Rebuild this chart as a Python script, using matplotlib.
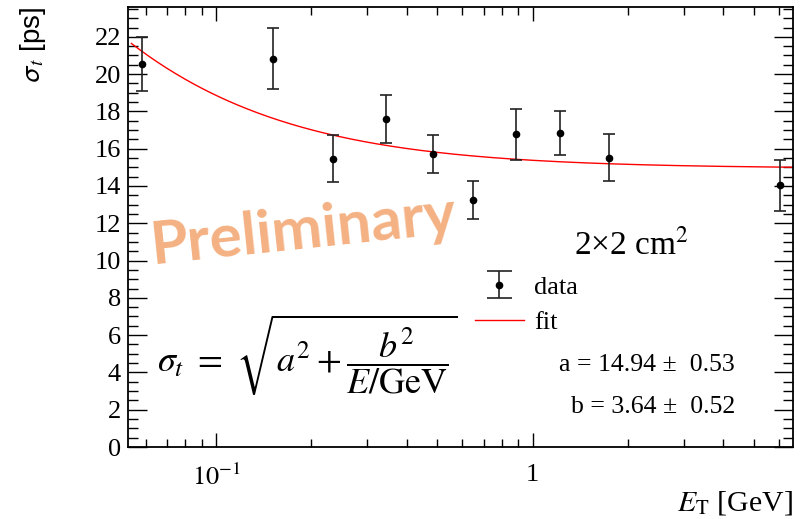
import numpy as np
import matplotlib.pyplot as plt
from matplotlib.ticker import FixedLocator, FixedFormatter, LogLocator, MultipleLocator, NullFormatter
from matplotlib.lines import Line2D
from matplotlib.collections import LineCollection
from matplotlib.container import ErrorbarContainer

plt.rcParams['font.family'] = 'Liberation Serif'
plt.rcParams['mathtext.fontset'] = 'stix'

# Timing resolution vs transverse energy
energy = [0.0583, 0.151, 0.2346, 0.344, 0.483, 0.649, 0.887, 1.222, 1.74, 6.04]
sigma_t = [20.55, 20.83, 15.47, 17.60, 15.69, 13.27, 16.77, 16.82, 15.52, 14.04]
sigma_err = [1.45, 1.65, 1.27, 1.30, 1.02, 1.02, 1.36, 1.18, 1.26, 1.37]

# fit parameters: sigma_t = sqrt(a^2 + b^2/E)
a_fit, a_err = 14.94, 0.53
b_fit, b_err = 3.64, 0.52

x_min, x_max = 0.0527, 6.64
y_min, y_max = 0.0, 23.6

fig = plt.figure(figsize=(8.04, 5.19), dpi=100)
ax = fig.add_axes([128 / 804, 72 / 519, 665 / 804, 440 / 519])

e_fit = np.logspace(np.log10(0.054), np.log10(x_max), 300)
fit_line, = ax.plot(e_fit, np.sqrt(a_fit**2 + b_fit**2 / e_fit), color='red', lw=1.0, zorder=2)

ax.errorbar(energy, sigma_t, yerr=sigma_err, fmt='o', color='black', ms=4.5,
            ecolor='#222222', elinewidth=1.2, capsize=4.5, capthick=1.2, zorder=3)

ax.set_xscale('log')
ax.set_xlim(x_min, x_max)
ax.set_ylim(y_min, y_max)

ax.xaxis.set_major_locator(FixedLocator([0.1, 1]))
ax.xaxis.set_major_formatter(FixedFormatter([r'$10^{-1}$', '1']))
ax.xaxis.set_minor_locator(LogLocator(base=10, subs=np.arange(2, 10)))
ax.xaxis.set_minor_formatter(NullFormatter())
ax.yaxis.set_major_locator(MultipleLocator(2))
ax.yaxis.set_minor_locator(MultipleLocator(0.5))

ax.tick_params(which='both', direction='in', top=True, right=True, width=1.0,
               labelfontfamily='Liberation Serif')
ax.tick_params(axis='x', which='major', length=10, labelsize=19, pad=12)
ax.tick_params(axis='x', which='minor', length=5.5)
ax.tick_params(axis='y', which='major', length=14, labelsize=19, pad=5)
ax.tick_params(axis='y', which='minor', length=7.5)
for s in ax.spines.values():
    s.set_linewidth(1.3)

ax.set_ylabel(r'$\mathsf{\sigma}_{t}$ [ps]', fontsize=20, family='Liberation Sans', loc='top')
ax.yaxis.set_label_coords(-0.12, 1.0)
ax.set_xlabel(r'$E_{\mathrm{T}}$ [GeV]', fontsize=21.5, loc='right')
ax.xaxis.set_label_coords(1.0, -0.095)

# legend entry for the data with wide caps
pt_proxy = Line2D([], [], marker='o', color='black', ms=4.5, ls='none')
cap_proxy = Line2D([], [], marker='_', ms=18, mew=1.2, color='#222222', ls='none')
bar_proxy = LineCollection([], colors='#222222', linewidths=1.2)
data_proxy = ErrorbarContainer((pt_proxy, (cap_proxy, cap_proxy), (bar_proxy,)),
                               has_xerr=False, has_yerr=True)

ax.legend(handles=[data_proxy, fit_line], labels=['data', 'fit'], loc='upper left',
          bbox_to_anchor=(0.5218, 0.39), frameon=False, fontsize=19,
          handlelength=1.85, handletextpad=0.4, labelspacing=0.45, borderpad=0,
          borderaxespad=0)

ax.text(0.757, 0.459, '2×2 cm$^{2}$', transform=ax.transAxes, fontsize=24,
        ha='center', va='center')
ax.text(0.9128, 0.186, f'a = {a_fit:.2f} ±  {a_err:.2f}', transform=ax.transAxes,
        fontsize=18.5, ha='right', va='center')
ax.text(0.9128, 0.091, f'b = {b_fit:.2f} ±  {b_err:.2f}', transform=ax.transAxes,
        fontsize=18.5, ha='right', va='center')

ax.text(0.0436, 0.209, r'$\sigma_t\ =\ \sqrt{a^2 + \dfrac{b^2}{E/\mathrm{GeV}}}$',
        transform=ax.transAxes, fontsize=26, ha='left', va='center')

ax.text(0.263, 0.490, 'Preliminary', transform=ax.transAxes, fontsize=43.5,
        family='Lato', weight='bold', color='#F4B183', rotation=6,
        ha='center', va='center', rotation_mode='anchor')

fig.savefig('out.png', dpi=100)
